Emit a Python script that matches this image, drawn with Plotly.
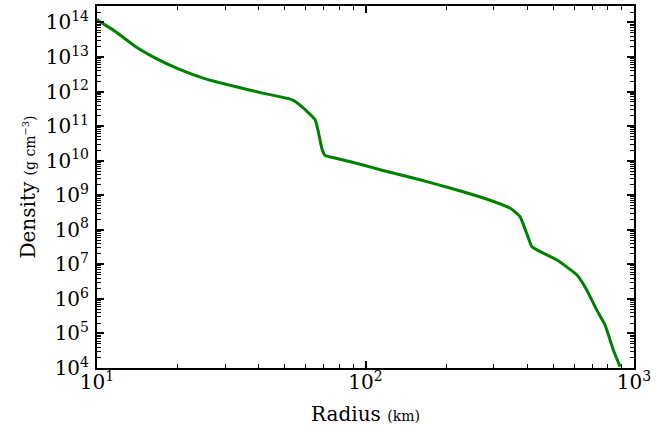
import plotly.graph_objects as go

# Radius (km) and density (g cm^-3)
radius = [10.0, 10.1, 11.67, 13.85, 16.44, 20.1, 25.2, 32.7, 41.0, 53.1,
          57.8, 64.9, 66.7, 68.7, 70.6, 76.9, 100.5, 113.2, 159.6, 206.5,
          274.8, 345.1, 375.8, 398.1, 415.9, 434.5, 515.2, 612.4, 666.8,
          726.1, 779.8, 837.5, 887.2]
density = [1.23e14, 1.14e14, 5.6e13, 2.06e13, 9.5e12, 4.55e12, 2.38e12,
           1.40e12, 9.16e11, 5.86e11, 3.75e11, 1.54e11, 7.06e10, 2.33e10,
           1.43e10, 1.20e10, 7.16e9, 5.48e9, 2.81e9, 1.62e9, 8.3e8, 4.26e8,
           2.43e8, 8.0e7, 3.28e7, 2.63e7, 1.35e7, 4.97e6, 1.82e6, 4.8e5,
           1.76e5, 3.33e4, 1.1e4]

x_tickvals = [10, 100, 1000]
x_ticktext = ["10<sup>1</sup>", "10<sup>2</sup>", "10<sup>3</sup>"]
y_tickvals = [10 ** k for k in range(4, 15)]
y_ticktext = ["10<sup>%d</sup>" % k for k in range(4, 15)]

FONT = "DejaVu Serif"
XR = [1, 3]
YR = [4, 14.477]

fig = go.Figure()
fig.add_trace(go.Scatter(
    x=radius, y=density, mode="lines",
    line=dict(color="#008000", width=3, shape="spline", smoothing=0.4),
    showlegend=False, hoverinfo="skip",
))
# transparent copies on the overlaid axes (top/right ticks, tick labels)
for xa, ya in (("x2", "y2"), ("x3", "y3")):
    fig.add_trace(go.Scatter(
        x=radius, y=density, mode="lines", xaxis=xa, yaxis=ya,
        line=dict(color="rgba(0,0,0,0)", width=1), showlegend=False,
        hoverinfo="skip",
    ))

def tick_axis(rng, side, **kw):
    d = dict(
        type="log", range=rng, side=side, dtick=1,
        showgrid=False, zeroline=False,
        showline=True, linecolor="black", linewidth=1.5, mirror=False,
        ticks="inside", ticklen=7, tickwidth=2, tickcolor="black",
        minor=dict(ticks="inside", ticklen=4, tickwidth=1, tickcolor="black",
                   showgrid=False),
        showticklabels=False,
    )
    d.update(kw)
    return d

def label_axis(rng, side, vals, text, **kw):
    d = dict(
        type="log", range=rng, side=side, tickmode="array",
        tickvals=vals, ticktext=text, ticks="",
        showgrid=False, zeroline=False, showline=False,
        tickfont=dict(family=FONT, size=20, color="black"),
    )
    d.update(kw)
    return d

fig.update_layout(
    width=658, height=431,
    margin=dict(l=97, r=24, t=6, b=63),
    plot_bgcolor="white", paper_bgcolor="white",
    font=dict(family=FONT, color="black"),
    xaxis=tick_axis(XR, "bottom"),
    yaxis=tick_axis(YR, "left"),
    xaxis2=tick_axis(XR, "top", overlaying="x", anchor="y2"),
    yaxis2=tick_axis(YR, "right", overlaying="y", anchor="x2"),
    xaxis3=label_axis(
        XR, "bottom", x_tickvals, x_ticktext, overlaying="x", anchor="y3",
        title=dict(text="Radius <span style='font-size:14px'>(km)</span>",
                   font=dict(family=FONT, size=20, color="black"), standoff=13)),
    yaxis3=label_axis(
        YR, "left", y_tickvals, y_ticktext, overlaying="y", anchor="x3",
        ticklabelstandoff=7,
        title=dict(text="Density <span style='font-size:14px'>(g cm<sup>−3</sup>)</span>",
                   font=dict(family=FONT, size=20, color="black"), standoff=4)),
)

fig.write_html("out.html", config={"displayModeBar": False},
               post_script="document.body.style.margin='0';")
